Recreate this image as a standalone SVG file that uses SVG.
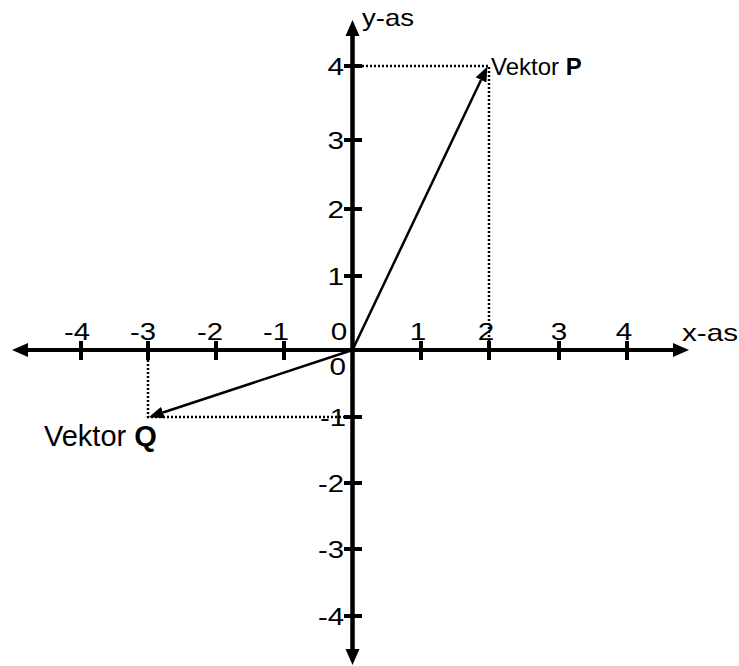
<svg xmlns="http://www.w3.org/2000/svg" width="739" height="666" viewBox="0 0 739 666">
<style>
text{font-family:"Liberation Sans",Arial,sans-serif;font-size:24px;fill:#000}
.axis{stroke:#000;stroke-width:4;fill:none}
.tick{stroke:#000;stroke-width:4}
.vec{stroke:#000;stroke-width:2.5;fill:none}
.dot{stroke:#000;stroke-width:2.5;stroke-dasharray:2 2;fill:none}
.xl{text-anchor:middle}
.yl{text-anchor:end}
.big{font-size:29px}
</style>
<defs>
<marker id="axArrow" markerUnits="userSpaceOnUse" markerWidth="16" markerHeight="16" refX="0" refY="8" orient="auto" viewBox="0 0 16 16">
<path d="M0,1 L16,8 L0,15 z" fill="#000"/>
</marker>
<marker id="vArrow" markerUnits="userSpaceOnUse" markerWidth="15" markerHeight="12" refX="0" refY="6" orient="auto" viewBox="0 0 15 12">
<path d="M0,0 L15,6 L0,12 z" fill="#000"/>
</marker>
</defs>
<g id="axes">
<line class="axis" x1="673" y1="350" x2="28" y2="350" marker-end="url(#axArrow)"/>
<line class="axis" x1="28" y1="350" x2="673" y2="350" marker-end="url(#axArrow)"/>
<line class="axis" x1="352.5" y1="649" x2="352.5" y2="36" marker-end="url(#axArrow)"/>
<line class="axis" x1="352.5" y1="36" x2="352.5" y2="649" marker-end="url(#axArrow)"/>
</g>
<g id="x-ticks">
<line class="tick" x1="81" y1="341" x2="81" y2="360"/>
<line class="tick" x1="148" y1="341" x2="148" y2="360"/>
<line class="tick" x1="216" y1="341" x2="216" y2="360"/>
<line class="tick" x1="284" y1="341" x2="284" y2="360"/>
<line class="tick" x1="421" y1="341" x2="421" y2="360"/>
<line class="tick" x1="489" y1="341" x2="489" y2="360"/>
<line class="tick" x1="559" y1="341" x2="559" y2="360"/>
<line class="tick" x1="627" y1="341" x2="627" y2="360"/>
</g>
<g id="y-ticks">
<line class="tick" x1="344" y1="66" x2="362" y2="66"/>
<line class="tick" x1="344" y1="140" x2="362" y2="140"/>
<line class="tick" x1="344" y1="209" x2="362" y2="209"/>
<line class="tick" x1="344" y1="276" x2="362" y2="276"/>
<line class="tick" x1="344" y1="417" x2="362" y2="417"/>
<line class="tick" x1="344" y1="483" x2="362" y2="483"/>
<line class="tick" x1="344" y1="549" x2="362" y2="549"/>
<line class="tick" x1="344" y1="616" x2="362" y2="616"/>
</g>
<g id="x-labels">
<text class="xl" x="77" y="339.5" textLength="26" lengthAdjust="spacingAndGlyphs">-4</text>
<text class="xl" x="143" y="339.5" textLength="26" lengthAdjust="spacingAndGlyphs">-3</text>
<text class="xl" x="210" y="339.5" textLength="26" lengthAdjust="spacingAndGlyphs">-2</text>
<text class="xl" x="276" y="339.5" textLength="26" lengthAdjust="spacingAndGlyphs">-1</text>
<text class="xl" x="339" y="339.5" textLength="16.5" lengthAdjust="spacingAndGlyphs">0</text>
<text class="xl" x="418" y="339.5" textLength="16.5" lengthAdjust="spacingAndGlyphs">1</text>
<text class="xl" x="486" y="339.5" textLength="16.5" lengthAdjust="spacingAndGlyphs">2</text>
<text class="xl" x="559" y="339.5" textLength="16.5" lengthAdjust="spacingAndGlyphs">3</text>
<text class="xl" x="624" y="339.5" textLength="16.5" lengthAdjust="spacingAndGlyphs">4</text>
</g>
<g id="y-labels">
<text class="yl" x="346" y="375" textLength="16.5" lengthAdjust="spacingAndGlyphs">0</text>
<text class="yl" x="344" y="74.5" textLength="16.5" lengthAdjust="spacingAndGlyphs">4</text>
<text class="yl" x="344" y="148.5" textLength="16.5" lengthAdjust="spacingAndGlyphs">3</text>
<text class="yl" x="344" y="217.5" textLength="16.5" lengthAdjust="spacingAndGlyphs">2</text>
<text class="yl" x="344" y="284.5" textLength="16.5" lengthAdjust="spacingAndGlyphs">1</text>
<text class="yl" x="346" y="425.5" textLength="26" lengthAdjust="spacingAndGlyphs">-1</text>
<text class="yl" x="344" y="491.5" textLength="26" lengthAdjust="spacingAndGlyphs">-2</text>
<text class="yl" x="344" y="557.5" textLength="26" lengthAdjust="spacingAndGlyphs">-3</text>
<text class="yl" x="344" y="624.5" textLength="26" lengthAdjust="spacingAndGlyphs">-4</text>
</g>
<g id="axis-titles">
<text x="682" y="341" textLength="56" lengthAdjust="spacingAndGlyphs">x-as</text>
<text x="362" y="26" textLength="52" lengthAdjust="spacingAndGlyphs">y-as</text>
</g>
<g id="guides">
<polyline class="dot" points="362,66 489,66 489,341"/>
<polyline class="dot" points="148,360 148,417 344,417"/>
</g>
<g id="vector-P">
<line class="vec" x1="352.5" y1="350" x2="481" y2="80" marker-end="url(#vArrow)"/>
<text x="491" y="75">Vektor <tspan font-weight="bold">P</tspan></text>
</g>
<g id="vector-Q">
<line class="vec" x1="352.5" y1="350" x2="163" y2="412.5" marker-end="url(#vArrow)"/>
<text class="big" x="44" y="446">Vektor <tspan font-weight="bold">Q</tspan></text>
</g>
</svg>
